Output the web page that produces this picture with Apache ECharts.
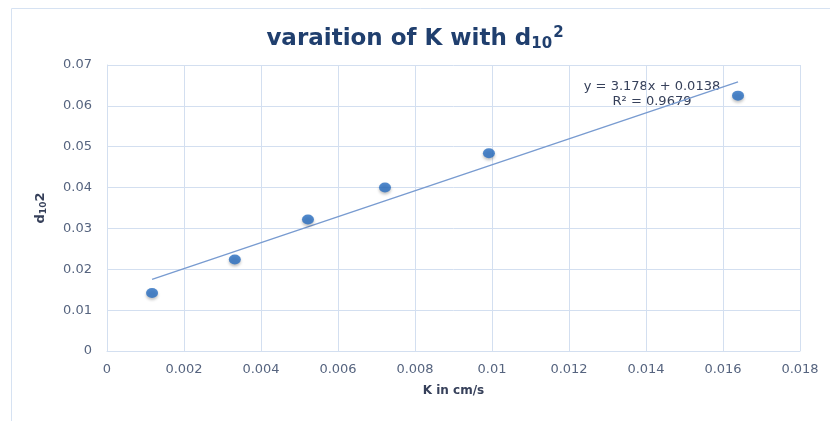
<!DOCTYPE html>
<html>
<head>
<meta charset="utf-8">
<script src="https://cdn.jsdelivr.net/npm/echarts@6/dist/echarts.min.js"></script>
<style>
  html, body { margin: 0; padding: 0; background: #fff; }
  #chart { width: 830px; height: 421px; }
</style>
</head>
<body>
<div id="chart"></div>
<script>
// Measured permeability K (cm/s) against d10 squared
const kValues = [0.00117, 0.00332, 0.00522, 0.00722, 0.00992, 0.01639];
const d10Squared = [0.0142, 0.0224, 0.0322, 0.0400, 0.0484, 0.0625];

// Linear trendline coefficients and fit quality
const slope = 3.178;
const intercept = 0.0138;
const rSquared = '0.9679';

const xTicks = { min: 0, max: 0.018, interval: 0.002 };
const yTicks = { min: 0, max: 0.07, interval: 0.01 };

const font = 'DejaVu Sans';
const labelColor = '#56647f';
const gridColor = '#d3dff0';

const points = kValues.map((k, i) => [k, d10Squared[i]]);
const kMin = Math.min(...kValues);
const kMax = Math.max(...kValues);
const trend = [kMin, kMax].map(k => [k, slope * k + intercept]);

const fmt = v => String(+Number(v).toFixed(4));

const chart = echarts.init(document.getElementById('chart'), null, { renderer: 'canvas' });
chart.setOption({
  backgroundColor: '#ffffff',
  animation: false,
  title: {
    text: '{a|varaition of K with d}{sub|10}{sup|2}',
    left: 'center',
    top: 21,
    textStyle: {
      rich: {
        a: { fontFamily: font, fontWeight: 'bold', fontSize: 23, color: '#203f6e' },
        sub: { fontFamily: font, fontWeight: 'bold', fontSize: 15, color: '#203f6e', padding: [11, 0, 0, 0] },
        sup: { fontFamily: font, fontWeight: 'bold', fontSize: 15, color: '#203f6e', padding: [0, 0, 11, 1] }
      }
    }
  },
  grid: { left: 107, right: 30, top: 65, bottom: 70, containLabel: false },
  xAxis: {
    type: 'value',
    min: xTicks.min, max: xTicks.max, interval: xTicks.interval,
    name: 'K in cm/s',
    nameLocation: 'middle',
    nameGap: 34,
    nameTextStyle: { fontFamily: font, fontWeight: 'bold', fontSize: 12, color: '#36405a' },
    axisLine: { show: true, lineStyle: { color: gridColor, width: 1 } },
    axisTick: { show: false },
    axisLabel: { fontFamily: font, fontSize: 13, color: labelColor, margin: 12, formatter: fmt },
    splitLine: { show: true, lineStyle: { color: gridColor, width: 1 } }
  },
  yAxis: {
    type: 'value',
    min: yTicks.min, max: yTicks.max, interval: yTicks.interval,
    name: '{d|d}{sub|10}{d|2}',
    nameLocation: 'middle',
    nameRotate: 90,
    nameGap: 59,
    nameTextStyle: {
      rich: {
        d: { fontFamily: font, fontWeight: 'bold', fontSize: 13, color: '#36405a' },
        sub: { fontFamily: font, fontWeight: 'bold', fontSize: 9, color: '#36405a', padding: [6, 0, 0, 0] }
      }
    },
    axisLine: { show: true, lineStyle: { color: gridColor, width: 1 } },
    axisTick: { show: false },
    axisLabel: { fontFamily: font, fontSize: 13, color: labelColor, margin: 15, formatter: fmt },
    splitLine: { show: true, lineStyle: { color: gridColor, width: 1 } }
  },
  series: [
    {
      type: 'line',
      data: trend,
      symbol: 'none',
      silent: true,
      lineStyle: { color: '#789bd0', width: 1.4 },
      z: 2
    },
    {
      type: 'scatter',
      data: points,
      symbol: 'circle',
      symbolSize: [12, 10],
      itemStyle: {
        color: '#276dc0',
        shadowBlur: 3,
        shadowOffsetY: 2,
        shadowColor: 'rgba(0,0,0,0.3)'
      },
      z: 3
    }
  ],
  graphic: [
    {
      type: 'text',
      x: 652,
      y: 79,
      style: {
        text: 'y = 3.178x + 0.0138\nR² = ' + rSquared,
        fontFamily: font,
        fontSize: 13,
        lineHeight: 15,
        align: 'center',
        fill: '#36405a'
      }
    },
    { type: 'line', shape: { x1: 11.5, y1: 8.5, x2: 830, y2: 8.5 }, style: { stroke: '#d6e2f2', lineWidth: 1 } },
    { type: 'line', shape: { x1: 11.5, y1: 8.5, x2: 11.5, y2: 421 }, style: { stroke: '#d6e2f2', lineWidth: 1 } }
  ]
});
</script>
</body>
</html>
